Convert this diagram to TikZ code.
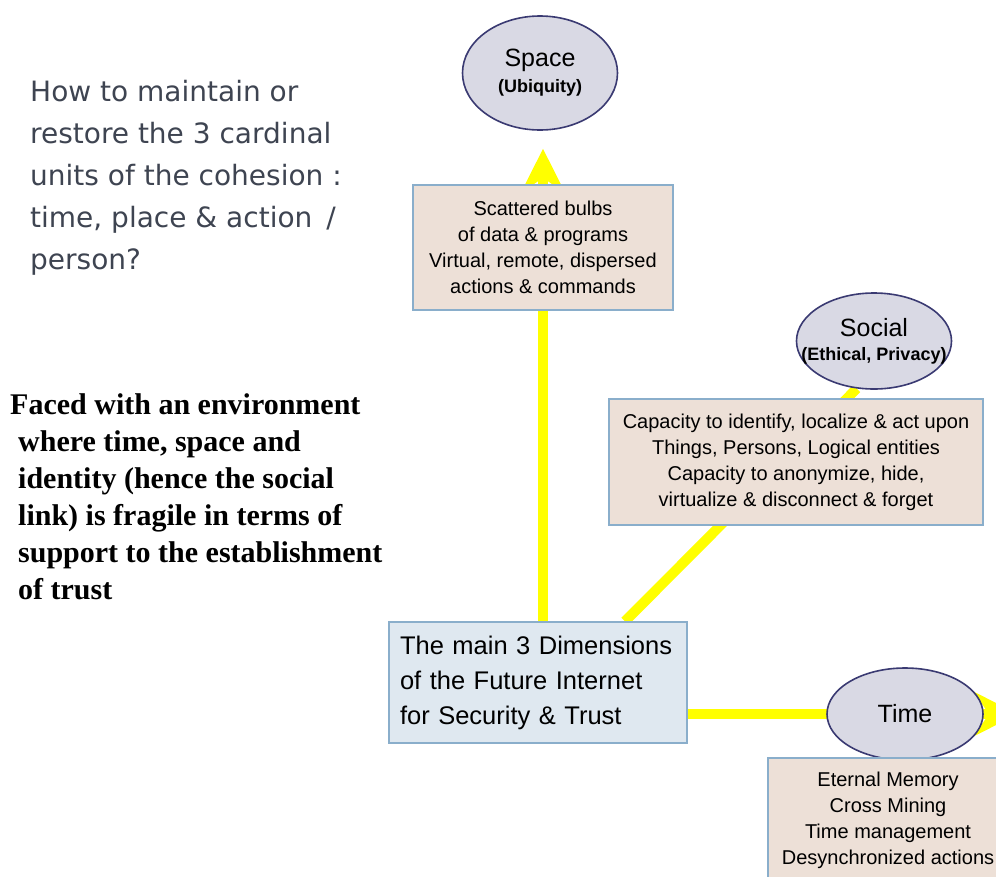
\documentclass[tikz,border=0pt]{standalone}
\usepackage{fontspec}
\setmainfont{Liberation Sans}
\newfontfamily\askfont{DejaVu Sans}
\newfontfamily\notefont{Liberation Serif}
\usetikzlibrary{arrows.meta,positioning,shapes.geometric,backgrounds}
\definecolor{rim}{HTML}{3A3A72}
\definecolor{bubblefill}{HTML}{D9D9E4}
\definecolor{cardedge}{HTML}{8AAECB}
\definecolor{cardfill}{HTML}{EDE0D7}
\definecolor{mainfill}{HTML}{DFE8F0}
\definecolor{beamyellow}{HTML}{FFFF00}
\definecolor{askgray}{HTML}{3E4451}
\newcommand{\subfont}{\bfseries\fontsize{18}{22}\selectfont}

\begin{document}
\begin{tikzpicture}[x=1pt,y=-1pt,
    >=Stealth,
    bubble/.style={ellipse,draw=rim,line width=1.6pt,fill=bubblefill,inner sep=0pt,minimum width=155pt,align=center,font=\fontsize{25}{30}\selectfont},
    card/.style={rectangle,draw=cardedge,line width=1.4pt,fill=cardfill,align=center,inner sep=0pt,font=\fontsize{20}{26}\selectfont},
    beam/.style={draw=beamyellow,line width=10pt},
    beamtip/.style={-{Stealth[length=44pt,width=44pt,inset=15pt]}}]
    \useasboundingbox (0,0) rectangle (996,876);
    \node[bubble,minimum height=114pt] (space) at (540,73)
      {Space\\[-4pt]{\subfont (Ubiquity)}};
    \node[card,minimum width=260pt,minimum height=125pt] (scatter) at (543,247.5)
      {Scattered bulbs\\of data \& programs\\Virtual, remote, dispersed\\actions \& commands};
    \node[bubble,minimum height=96pt] (social) at (874,341)
      {Social\\[-6pt]\makebox[0pt]{\subfont (Ethical, Privacy)}};
    \node[card,minimum width=374pt,minimum height=126pt] (ident) at (796,462)
      {Capacity to identify, localize \& act upon\\Things, Persons, Logical entities\\Capacity to anonymize, hide,\\virtualize \& disconnect \& forget};
    \node[card,fill=mainfill,align=left,text width=276pt,inner xsep=11pt,minimum height=121pt,font=\fontsize{25.5}{35}\selectfont] (dims) at (538,682.5)
      {The main 3 Dimensions\\of the Future Internet\\for Security \& Trust};
    \node[bubble,minimum width=156pt,minimum height=92pt] (time) at (905,714) {Time};
    \node[card,minimum width=240pt,minimum height=124pt] (memory) at (888,820)
      {Eternal Memory\\Cross Mining\\Time management\\Desynchronized actions};
    \coordinate (offpage) at (1018,714);
    \begin{scope}[on background layer]
      \draw[beam,beamtip,shorten >=18pt] (dims.north -| scatter.north) -- (space.south -| scatter.north);
      \draw[beam] ([xshift=87pt]dims.north) -- (social.250);
      \draw[beam,beamtip] (dims.east |- time.west) -- (offpage);
    \end{scope}
    \node[anchor=north west,align=left,inner sep=0pt,text=askgray,font=\askfont\fontsize{28}{42}\selectfont] (ask) at (30,80)
      {How to maintain or\\restore the 3 cardinal\\units of the cohesion :\\time, place \& action\enspace/\\person?};
    \node[anchor=north west,align=left,inner sep=0pt,font=\notefont\bfseries\fontsize{30}{37}\selectfont] (faced) at (10,393)
      {Faced with an environment\\\hspace*{8pt}where time, space and\\\hspace*{8pt}identity (hence the social\\\hspace*{8pt}link) is fragile in terms of\\\hspace*{8pt}support to the establishment\\\hspace*{8pt}of trust};
\end{tikzpicture}
\end{document}
